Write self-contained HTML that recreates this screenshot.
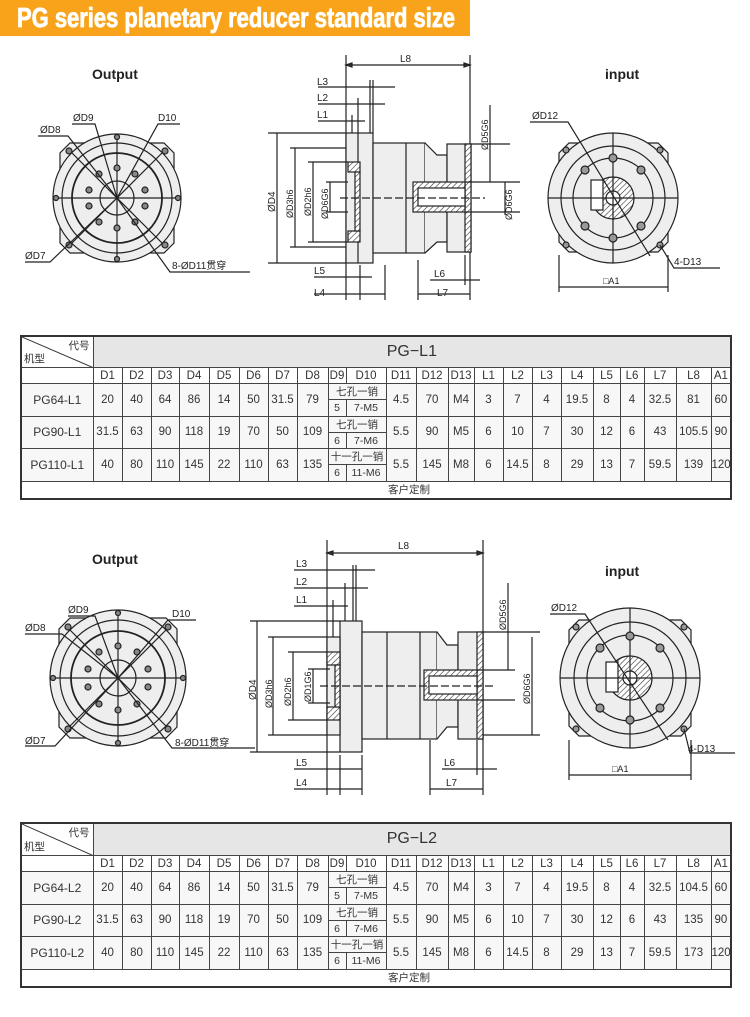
<!DOCTYPE html>
<html><head><meta charset="utf-8">
<style>
body{margin:0;width:750px;height:1017px;background:#fff;position:relative;overflow:hidden;font-family:"Liberation Sans","Noto Sans CJK SC",sans-serif;}
svg{position:absolute;left:0;top:0;}
table{position:absolute;left:20px;width:710px;border-collapse:collapse;table-layout:fixed;font-size:11.5px;color:#333;border:2px solid #333;}
td{border:1px solid #444;text-align:center;padding:0;background:#f7f7f7;white-space:nowrap;overflow:hidden;}
td.h{height:15px;background:#fff;}
td.sub{height:15px;font-size:10.5px;}
td.t{background:#e6e6e6;font-size:16px;}
td.f{height:16px;background:#fff;font-size:10.5px;text-align:left;padding-left:366px;}
td.d{position:relative;background:#fff;font-size:10.5px;}
td.lbl{font-size:12px;}
</style></head><body>
<svg width="750" height="1017" viewBox="0 0 750 1017" font-family="Liberation Sans, Noto Sans CJK SC, sans-serif" font-size="10" fill="#222">
<defs>
<pattern id="ht" width="4" height="4" patternUnits="userSpaceOnUse" patternTransform="rotate(45)"><rect width="4" height="4" fill="#fff"/><line x1="0" y1="0" x2="0" y2="4" stroke="#333" stroke-width="1.2"/></pattern>
</defs>
<rect x="0" y="0" width="470" height="36" fill="#f8a31a"/>
<text x="17" y="27" font-family="Liberation Sans Narrow, Liberation Sans, sans-serif" font-weight="bold" font-size="28" fill="#fff" stroke="#fff" stroke-width="0.8" textLength="438" lengthAdjust="spacingAndGlyphs">PG series planetary reducer standard size</text>

<!-- ===== section 1 ===== -->
<text x="92" y="79" font-weight="bold" font-size="14">Output</text>
<text x="605" y="79" font-weight="bold" font-size="14">input</text>
<g stroke="#222" fill="none" stroke-width="1.2">
<path d="M70 143 H164 L174 153 V243 L164 253 H70 L60 243 V153 Z" fill="#eee"/>
<circle cx="117" cy="198" r="64" fill="#eee"/>
<circle cx="117" cy="198" r="55"/>
<circle cx="117" cy="198" r="45" stroke-width="1.8"/>
<circle cx="117" cy="198" r="17"/>
<line x1="53" y1="198" x2="181" y2="198"/><line x1="117" y1="134" x2="117" y2="262"/>
<line x1="72" y1="153" x2="162" y2="243"/><line x1="162" y1="153" x2="72" y2="243"/>
<g fill="#888"><circle cx="69" cy="151" r="3"/><circle cx="165" cy="151" r="3"/><circle cx="69" cy="245" r="3"/><circle cx="165" cy="245" r="3"/>
<circle cx="117" cy="137" r="2.5"/><circle cx="117" cy="259" r="2.5"/><circle cx="56" cy="198" r="2.5"/><circle cx="178" cy="198" r="2.5"/>
<circle cx="117" cy="168" r="3"/><circle cx="135" cy="174" r="3"/><circle cx="145" cy="190" r="3"/><circle cx="145" cy="206" r="3"/><circle cx="135" cy="222" r="3"/><circle cx="117" cy="228" r="3"/><circle cx="99" cy="222" r="3"/><circle cx="89" cy="206" r="3"/><circle cx="89" cy="190" r="3"/><circle cx="99" cy="174" r="3"/></g>
<path d="M38 136 H68 L117 198"/><path d="M72 124 H95 L117 198"/><path d="M180 124 H158 L117 198"/><path d="M25 262 H50 L117 198"/><path d="M250 272 H170 L117 198"/>
</g>
<text x="40" y="133">ØD8</text><text x="73" y="121">ØD9</text><text x="158" y="121">D10</text><text x="25" y="259">ØD7</text><text x="172" y="269">8-ØD11贯穿</text>

<!-- side view 1 -->
<g stroke="#222" stroke-width="1.2" fill="none">
<line x1="346" y1="55" x2="346" y2="300"/><line x1="470" y1="55" x2="470" y2="300"/>
<line x1="346" y1="65" x2="470" y2="65"/><path d="M346 65 l6 -2 v4z M470 65 l-6 -2 v4z" fill="#333"/>
<line x1="318" y1="87" x2="395" y2="87"/><line x1="318" y1="104" x2="385" y2="104"/><line x1="318" y1="121" x2="365" y2="121"/>
<line x1="370" y1="80" x2="370" y2="133"/><line x1="373" y1="80" x2="373" y2="133"/><line x1="358" y1="98" x2="358" y2="148"/><line x1="352" y1="115" x2="352" y2="160"/>
<rect x="346" y="133" width="27" height="130" fill="#eee"/>
<rect x="373" y="143" width="52" height="110" fill="#eee"/>
<line x1="358" y1="133" x2="358" y2="263"/><line x1="406" y1="143" x2="406" y2="253"/>
<rect x="348" y="162" width="12" height="10" fill="url(#ht)"/><rect x="348" y="231" width="12" height="11" fill="url(#ht)"/><rect x="355" y="172" width="5" height="59" fill="url(#ht)"/>
<path d="M425 143 L437 155 H447 V242 H437 L425 253" fill="#eee"/>
<rect x="447" y="144" width="24" height="108" fill="#eee"/><rect x="465" y="144" width="6" height="108" fill="url(#ht)"/>
<rect x="413" y="182" width="52" height="30" fill="url(#ht)"/><rect x="418" y="188" width="47" height="18" fill="#fff"/>
<line x1="340" y1="198" x2="485" y2="198" stroke-dasharray="8 3"/>
<line x1="268" y1="133" x2="346" y2="133"/><line x1="268" y1="263" x2="346" y2="263"/><line x1="277" y1="133" x2="277" y2="263"/>
<line x1="290" y1="148" x2="346" y2="148"/><line x1="290" y1="247" x2="346" y2="247"/><line x1="295" y1="148" x2="295" y2="247"/>
<line x1="308" y1="162" x2="348" y2="162"/><line x1="308" y1="242" x2="348" y2="242"/><line x1="313" y1="162" x2="313" y2="242"/>
<line x1="326" y1="182" x2="348" y2="182"/><line x1="326" y1="212" x2="348" y2="212"/><line x1="330" y1="182" x2="330" y2="212"/>
<line x1="471" y1="144" x2="510" y2="144"/><line x1="465" y1="182" x2="520" y2="182"/><line x1="465" y1="212" x2="520" y2="212"/>
<line x1="490" y1="105" x2="490" y2="182"/><line x1="505" y1="182" x2="505" y2="215"/>
<line x1="314" y1="277" x2="372" y2="277"/><line x1="314" y1="294" x2="385" y2="294"/><line x1="360" y1="265" x2="360" y2="300"/><line x1="385" y1="265" x2="385" y2="300"/>
<line x1="430" y1="280" x2="480" y2="280"/><line x1="418" y1="260" x2="418" y2="300"/><line x1="418" y1="294" x2="470" y2="294"/><line x1="465" y1="255" x2="465" y2="285"/>
</g>
<text x="400" y="62">L8</text><text x="317" y="85">L3</text><text x="317" y="101">L2</text><text x="317" y="118">L1</text>
<text x="314" y="274">L5</text><text x="314" y="296">L4</text><text x="434" y="277">L6</text><text x="437" y="296">L7</text>
<text transform="translate(275,212) rotate(-90)">ØD4</text><text transform="translate(293,218) rotate(-90)" font-size="9">ØD3h6</text><text transform="translate(311,216) rotate(-90)" font-size="9">ØD2h6</text><text transform="translate(328,219) rotate(-90)" font-size="9">ØD6G6</text>
<text transform="translate(488,150) rotate(-90)" font-size="9">ØD5G6</text><text transform="translate(512,220) rotate(-90)" font-size="9">ØD6G6</text>

<!-- input view 1 -->
<g stroke="#222" stroke-width="1.2" fill="none">
<path d="M569 143 H658 L668 153 V242 L658 252 H569 L559 242 V153 Z" fill="#eee"/>
<circle cx="613" cy="198" r="65" fill="#eee"/>
<circle cx="613" cy="198" r="52"/><circle cx="613" cy="198" r="40"/>
<circle cx="613" cy="198" r="21" fill="url(#ht)"/><circle cx="613" cy="198" r="7" fill="#fff"/>
<rect x="591" y="180" width="12" height="30" fill="#fff"/>
<line x1="548" y1="198" x2="678" y2="198"/><line x1="613" y1="133" x2="613" y2="263"/>
<g fill="#999"><circle cx="566" cy="150" r="3"/><circle cx="660" cy="150" r="3"/><circle cx="566" cy="245" r="3"/><circle cx="660" cy="245" r="3"/>
<circle cx="613" cy="158" r="4"/><circle cx="613" cy="238" r="4"/><circle cx="585" cy="170" r="4"/><circle cx="641" cy="170" r="4"/><circle cx="585" cy="226" r="4"/><circle cx="641" cy="226" r="4"/></g>
<path d="M530 122 H568 L650 256"/><path d="M720 268 H674 L660 245"/>
<line x1="559" y1="255" x2="559" y2="292"/><line x1="668" y1="255" x2="668" y2="292"/><line x1="559" y1="287" x2="668" y2="287"/>
</g>
<text x="532" y="119">ØD12</text><text x="674" y="265">4-D13</text><text x="603" y="284" font-size="9">□A1</text>

<!-- ===== section 2 ===== -->
<text x="92" y="564" font-weight="bold" font-size="14">Output</text>
<text x="605" y="576" font-weight="bold" font-size="14">input</text>
<g stroke="#222" fill="none" stroke-width="1.2">
<path d="M70 618 H166 L177 629 V727 L166 738 H70 L59 727 V629 Z" fill="#eee"/>
<circle cx="118" cy="678" r="68" fill="#eee"/>
<circle cx="118" cy="678" r="58"/>
<circle cx="118" cy="678" r="47" stroke-width="1.8"/>
<circle cx="118" cy="678" r="18"/>
<line x1="50" y1="678" x2="186" y2="678"/><line x1="118" y1="610" x2="118" y2="746"/>
<line x1="70" y1="630" x2="166" y2="726"/><line x1="166" y1="630" x2="70" y2="726"/>
<g fill="#888"><circle cx="68" cy="627" r="3"/><circle cx="168" cy="627" r="3"/><circle cx="68" cy="729" r="3"/><circle cx="168" cy="729" r="3"/>
<circle cx="118" cy="613" r="2.5"/><circle cx="118" cy="743" r="2.5"/><circle cx="53" cy="678" r="2.5"/><circle cx="183" cy="678" r="2.5"/>
<circle cx="118" cy="646" r="3"/><circle cx="137" cy="652" r="3"/><circle cx="148" cy="669" r="3"/><circle cx="148" cy="687" r="3"/><circle cx="137" cy="704" r="3"/><circle cx="118" cy="710" r="3"/><circle cx="99" cy="704" r="3"/><circle cx="88" cy="687" r="3"/><circle cx="88" cy="669" r="3"/><circle cx="99" cy="652" r="3"/></g>
<path d="M68 616 H95 L118 678"/><path d="M196 620 H168 L118 678"/><path d="M25 634 H62 L118 678"/><path d="M25 746 H55 L118 678"/><path d="M255 748 H172 L118 678"/>
</g>
<text x="68" y="613">ØD9</text><text x="172" y="617">D10</text><text x="25" y="631">ØD8</text><text x="25" y="744">ØD7</text><text x="175" y="746">8-ØD11贯穿</text>

<!-- side view 2 -->
<g stroke="#222" stroke-width="1.2" fill="none">
<line x1="327" y1="540" x2="327" y2="795"/><line x1="483" y1="540" x2="483" y2="795"/>
<line x1="327" y1="553" x2="483" y2="553"/><path d="M327 553 l6 -2 v4z M483 553 l-6 -2 v4z" fill="#333"/>
<line x1="294" y1="570" x2="375" y2="570"/><line x1="294" y1="588" x2="368" y2="588"/><line x1="294" y1="606" x2="348" y2="606"/>
<line x1="353" y1="565" x2="353" y2="621"/><line x1="356" y1="565" x2="356" y2="621"/><line x1="345" y1="583" x2="345" y2="637"/><line x1="333" y1="600" x2="333" y2="652"/>
<rect x="340" y="621" width="22" height="131" fill="#eee"/>
<rect x="327" y="637" width="13" height="98" fill="#eee"/>
<rect x="362" y="632" width="75" height="107" fill="#eee"/>
<line x1="387" y1="632" x2="387" y2="739"/><line x1="420" y1="632" x2="420" y2="739"/>
<rect x="327" y="652" width="13" height="13" fill="url(#ht)"/><rect x="327" y="707" width="13" height="13" fill="url(#ht)"/><rect x="335" y="665" width="5" height="42" fill="url(#ht)"/>
<path d="M437 632 L447 645 H458 V727 H447 L437 739" fill="#eee"/>
<rect x="458" y="632" width="25" height="107" fill="#eee"/><rect x="477" y="632" width="6" height="107" fill="url(#ht)"/>
<rect x="424" y="670" width="53" height="30" fill="url(#ht)"/><rect x="429" y="676" width="48" height="18" fill="#fff"/>
<line x1="320" y1="686" x2="495" y2="686" stroke-dasharray="8 3"/>
<line x1="250" y1="621" x2="340" y2="621"/><line x1="250" y1="752" x2="340" y2="752"/><line x1="257" y1="621" x2="257" y2="752"/>
<line x1="268" y1="637" x2="327" y2="637"/><line x1="268" y1="735" x2="327" y2="735"/><line x1="273" y1="637" x2="273" y2="735"/>
<line x1="288" y1="652" x2="327" y2="652"/><line x1="288" y1="720" x2="327" y2="720"/><line x1="293" y1="652" x2="293" y2="720"/>
<line x1="308" y1="669" x2="330" y2="669"/><line x1="308" y1="703" x2="330" y2="703"/><line x1="313" y1="669" x2="313" y2="703"/>
<line x1="483" y1="632" x2="540" y2="632"/><line x1="483" y1="735" x2="540" y2="735"/><line x1="477" y1="670" x2="515" y2="670"/><line x1="477" y1="700" x2="515" y2="700"/>
<line x1="508" y1="583" x2="508" y2="670"/><line x1="532" y1="637" x2="532" y2="735"/>
<line x1="294" y1="769" x2="362" y2="769"/><line x1="294" y1="789" x2="362" y2="789"/><line x1="340" y1="755" x2="340" y2="795"/><line x1="362" y1="755" x2="362" y2="795"/>
<line x1="442" y1="769" x2="497" y2="769"/><line x1="430" y1="740" x2="430" y2="795"/><line x1="430" y1="789" x2="483" y2="789"/><line x1="477" y1="740" x2="477" y2="775"/>
</g>
<text x="398" y="549">L8</text><text x="296" y="567">L3</text><text x="296" y="585">L2</text><text x="296" y="603">L1</text>
<text x="296" y="766">L5</text><text x="296" y="786">L4</text><text x="444" y="766">L6</text><text x="446" y="786">L7</text>
<text transform="translate(256,700) rotate(-90)">ØD4</text><text transform="translate(272,708) rotate(-90)" font-size="9">ØD3h6</text><text transform="translate(291,706) rotate(-90)" font-size="9">ØD2h6</text><text transform="translate(311,702) rotate(-90)" font-size="9">ØD1G6</text>
<text transform="translate(506,630) rotate(-90)" font-size="9">ØD5G6</text><text transform="translate(530,704) rotate(-90)" font-size="9">ØD6G6</text>

<!-- input view 2 -->
<g stroke="#222" stroke-width="1.2" fill="none">
<path d="M579 620 H681 L691 630 V726 L681 736 H579 L569 726 V630 Z" fill="#eee"/>
<circle cx="630" cy="678" r="70" fill="#eee"/>
<circle cx="630" cy="678" r="56"/><circle cx="630" cy="678" r="43"/>
<circle cx="630" cy="678" r="22" fill="url(#ht)"/><circle cx="630" cy="678" r="7" fill="#fff"/>
<rect x="606" y="662" width="12" height="30" fill="#fff"/>
<line x1="560" y1="678" x2="700" y2="678"/><line x1="630" y1="608" x2="630" y2="748"/>
<g fill="#999"><circle cx="576" cy="627" r="3"/><circle cx="684" cy="627" r="3"/><circle cx="576" cy="729" r="3"/><circle cx="684" cy="729" r="3"/>
<circle cx="630" cy="636" r="4"/><circle cx="630" cy="720" r="4"/><circle cx="600" cy="648" r="4"/><circle cx="660" cy="648" r="4"/><circle cx="600" cy="708" r="4"/><circle cx="660" cy="708" r="4"/></g>
<path d="M550 614 H585 L668 740"/><path d="M735 753 H690 L684 729"/>
<line x1="569" y1="740" x2="569" y2="780"/><line x1="691" y1="740" x2="691" y2="780"/><line x1="569" y1="775" x2="691" y2="775"/>
</g>
<text x="551" y="611">ØD12</text><text x="688" y="752">4-D13</text><text x="612" y="772" font-size="9">□A1</text>
</svg>

<table style="top:335px;height:165px">
<colgroup><col style="width:72px"><col style="width:29px"><col style="width:29px"><col style="width:28px"><col style="width:30px"><col style="width:30px"><col style="width:29px"><col style="width:29px"><col style="width:31px"><col style="width:18px"><col style="width:40px"><col style="width:30px"><col style="width:32px"><col style="width:26px"><col style="width:29px"><col style="width:29px"><col style="width:29px"><col style="width:32px"><col style="width:27px"><col style="width:24px"><col style="width:32px"><col style="width:35px"><col style="width:20px"></colgroup>
<tr style="height:31px"><td class="d"><svg width="72" height="31" style="position:absolute;left:0;top:0"><line x1="0" y1="0" x2="72" y2="31" stroke="#333"/></svg><span style="position:absolute;right:3px;top:1px">代号</span><span style="position:absolute;left:2px;bottom:1px">机型</span></td><td class="t" colspan="22">PG−L1</td></tr>
<tr><td class="h"></td><td class="h">D1</td><td class="h">D2</td><td class="h">D3</td><td class="h">D4</td><td class="h">D5</td><td class="h">D6</td><td class="h">D7</td><td class="h">D8</td><td class="h">D9</td><td class="h">D10</td><td class="h">D11</td><td class="h">D12</td><td class="h">D13</td><td class="h">L1</td><td class="h">L2</td><td class="h">L3</td><td class="h">L4</td><td class="h">L5</td><td class="h">L6</td><td class="h">L7</td><td class="h">L8</td><td class="h">A1</td></tr>
<tr><td class="lbl" rowspan="2">PG64-L1</td><td rowspan="2">20</td><td rowspan="2">40</td><td rowspan="2">64</td><td rowspan="2">86</td><td rowspan="2">14</td><td rowspan="2">50</td><td rowspan="2">31.5</td><td rowspan="2">79</td><td class="sub" colspan="2">七孔一销</td><td rowspan="2">4.5</td><td rowspan="2">70</td><td rowspan="2">M4</td><td rowspan="2">3</td><td rowspan="2">7</td><td rowspan="2">4</td><td rowspan="2">19.5</td><td rowspan="2">8</td><td rowspan="2">4</td><td rowspan="2">32.5</td><td rowspan="2">81</td><td rowspan="2">60</td></tr>
<tr><td class="sub">5</td><td class="sub">7-M5</td></tr>
<tr><td class="lbl" rowspan="2">PG90-L1</td><td rowspan="2">31.5</td><td rowspan="2">63</td><td rowspan="2">90</td><td rowspan="2">118</td><td rowspan="2">19</td><td rowspan="2">70</td><td rowspan="2">50</td><td rowspan="2">109</td><td class="sub" colspan="2">七孔一销</td><td rowspan="2">5.5</td><td rowspan="2">90</td><td rowspan="2">M5</td><td rowspan="2">6</td><td rowspan="2">10</td><td rowspan="2">7</td><td rowspan="2">30</td><td rowspan="2">12</td><td rowspan="2">6</td><td rowspan="2">43</td><td rowspan="2">105.5</td><td rowspan="2">90</td></tr>
<tr><td class="sub">6</td><td class="sub">7-M6</td></tr>
<tr><td class="lbl" rowspan="2">PG110-L1</td><td rowspan="2">40</td><td rowspan="2">80</td><td rowspan="2">110</td><td rowspan="2">145</td><td rowspan="2">22</td><td rowspan="2">110</td><td rowspan="2">63</td><td rowspan="2">135</td><td class="sub" colspan="2">十一孔一销</td><td rowspan="2">5.5</td><td rowspan="2">145</td><td rowspan="2">M8</td><td rowspan="2">6</td><td rowspan="2">14.5</td><td rowspan="2">8</td><td rowspan="2">29</td><td rowspan="2">13</td><td rowspan="2">7</td><td rowspan="2">59.5</td><td rowspan="2">139</td><td rowspan="2">120</td></tr>
<tr><td class="sub">6</td><td class="sub">11-M6</td></tr>
<tr><td class="f" colspan="23">客户定制</td></tr>
</table>

<table style="top:822px;height:166px">
<colgroup><col style="width:72px"><col style="width:29px"><col style="width:29px"><col style="width:28px"><col style="width:30px"><col style="width:30px"><col style="width:29px"><col style="width:29px"><col style="width:31px"><col style="width:18px"><col style="width:40px"><col style="width:30px"><col style="width:32px"><col style="width:26px"><col style="width:29px"><col style="width:29px"><col style="width:29px"><col style="width:32px"><col style="width:27px"><col style="width:24px"><col style="width:32px"><col style="width:35px"><col style="width:20px"></colgroup>
<tr style="height:32px"><td class="d"><svg width="72" height="32" style="position:absolute;left:0;top:0"><line x1="0" y1="0" x2="72" y2="32" stroke="#333"/></svg><span style="position:absolute;right:3px;top:1px">代号</span><span style="position:absolute;left:2px;bottom:1px">机型</span></td><td class="t" colspan="22">PG−L2</td></tr>
<tr><td class="h"></td><td class="h">D1</td><td class="h">D2</td><td class="h">D3</td><td class="h">D4</td><td class="h">D5</td><td class="h">D6</td><td class="h">D7</td><td class="h">D8</td><td class="h">D9</td><td class="h">D10</td><td class="h">D11</td><td class="h">D12</td><td class="h">D13</td><td class="h">L1</td><td class="h">L2</td><td class="h">L3</td><td class="h">L4</td><td class="h">L5</td><td class="h">L6</td><td class="h">L7</td><td class="h">L8</td><td class="h">A1</td></tr>
<tr><td class="lbl" rowspan="2">PG64-L2</td><td rowspan="2">20</td><td rowspan="2">40</td><td rowspan="2">64</td><td rowspan="2">86</td><td rowspan="2">14</td><td rowspan="2">50</td><td rowspan="2">31.5</td><td rowspan="2">79</td><td class="sub" colspan="2">七孔一销</td><td rowspan="2">4.5</td><td rowspan="2">70</td><td rowspan="2">M4</td><td rowspan="2">3</td><td rowspan="2">7</td><td rowspan="2">4</td><td rowspan="2">19.5</td><td rowspan="2">8</td><td rowspan="2">4</td><td rowspan="2">32.5</td><td rowspan="2">104.5</td><td rowspan="2">60</td></tr>
<tr><td class="sub">5</td><td class="sub">7-M5</td></tr>
<tr><td class="lbl" rowspan="2">PG90-L2</td><td rowspan="2">31.5</td><td rowspan="2">63</td><td rowspan="2">90</td><td rowspan="2">118</td><td rowspan="2">19</td><td rowspan="2">70</td><td rowspan="2">50</td><td rowspan="2">109</td><td class="sub" colspan="2">七孔一销</td><td rowspan="2">5.5</td><td rowspan="2">90</td><td rowspan="2">M5</td><td rowspan="2">6</td><td rowspan="2">10</td><td rowspan="2">7</td><td rowspan="2">30</td><td rowspan="2">12</td><td rowspan="2">6</td><td rowspan="2">43</td><td rowspan="2">135</td><td rowspan="2">90</td></tr>
<tr><td class="sub">6</td><td class="sub">7-M6</td></tr>
<tr><td class="lbl" rowspan="2">PG110-L2</td><td rowspan="2">40</td><td rowspan="2">80</td><td rowspan="2">110</td><td rowspan="2">145</td><td rowspan="2">22</td><td rowspan="2">110</td><td rowspan="2">63</td><td rowspan="2">135</td><td class="sub" colspan="2">十一孔一销</td><td rowspan="2">5.5</td><td rowspan="2">145</td><td rowspan="2">M8</td><td rowspan="2">6</td><td rowspan="2">14.5</td><td rowspan="2">8</td><td rowspan="2">29</td><td rowspan="2">13</td><td rowspan="2">7</td><td rowspan="2">59.5</td><td rowspan="2">173</td><td rowspan="2">120</td></tr>
<tr><td class="sub">6</td><td class="sub">11-M6</td></tr>
<tr><td class="f" colspan="23">客户定制</td></tr>
</table>
</body></html>
